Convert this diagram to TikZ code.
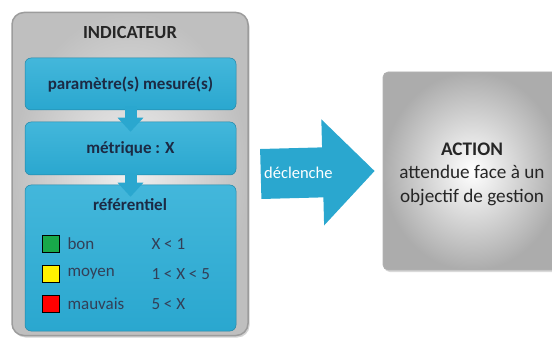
\documentclass[tikz,border=0pt]{standalone}
\usepackage{fontspec}
\setmainfont{Carlito}
\usetikzlibrary{arrows.meta,shadows}

\definecolor{bleuboite}{HTML}{2AA7CF}
\definecolor{bleuclair}{HTML}{43B7DB}
\definecolor{bleutexte}{HTML}{1C2A44}
\definecolor{grisbord}{HTML}{9C9C9C}
\definecolor{vertbon}{HTML}{18A84A}

\begin{document}
\begin{tikzpicture}[x=1pt,y=-1pt,>=Latex,
  every node/.style={font=\fontsize{17}{20}\selectfont,text=bleutexte},
  cadregris/.style={rounded corners=12,draw=grisbord,line width=1.5,
    inner color=gray!12,outer color=gray!50,
    drop shadow={shadow xshift=1.5pt,shadow yshift=-2pt,opacity=0.35}},
  boite/.style={rounded corners=6,draw=bleuboite!80!black,line width=0.5,
    top color=bleuclair,bottom color=bleuboite,
    minimum width=211,inner sep=0pt},
  titre/.style={font=\fontsize{17}{20}\selectfont\bfseries},
  carre/.style={draw=black,line width=1.4,minimum size=17,inner sep=0pt},
  legende/.style={anchor=west,font=\fontsize{17}{20}\selectfont,text=bleutexte!90!white},
  flechebas/.style={bleuboite,line width=12,-{Triangle[length=14pt,width=25pt]}},
  fleche/.style={bleuboite,line width=50,-{Triangle[length=52pt,width=103pt]}}]
  \useasboundingbox (0,0) rectangle (552,342);
  % bloc indicateur
  \node[cadregris,minimum width=236,minimum height=323] (indic) at (130,174) {};
  \node[titre,font=\fontsize{18.5}{20}\selectfont\bfseries,text=black!85] (titreindic) at (130,33) {INDICATEUR};
  \node[boite,minimum height=52] (param) at (130.5,84) {};
  \node[titre] (paramtxt) at (130.5,85) {param\`etre(s) mesur\'e(s)};
  \node[boite,minimum height=53] (metrique) at (130.5,148.5) {};
  \node[titre] (metriquetxt) at (metrique) {m\'etrique : X};
  \node[boite,minimum height=146] (referentiel) at (130.5,258) {};
  \node[titre] (referentieltxt) at (130,205) {r\'ef\'erentiel};
  \draw[flechebas] ([yshift=4]param.south) -- ([yshift=-10]metrique.north);
  \draw[flechebas] ([yshift=2]metrique.south) -- ([yshift=-12]referentiel.north);
  % classes du referentiel
  \node[carre,fill=vertbon] (carrebon) at (51,244) {};
  \node[carre,fill=yellow] (carremoyen) at (51,274) {};
  \node[carre,fill=red] (carremauvais) at (51,304) {};
  \node[legende] (bon) at (64,244) {bon};
  \node[legende] (moyen) at (64,274) {moyen};
  \node[legende] (mauvais) at (64,304) {mauvais};
  \node[legende] (seuilbon) at (148,244) {X < 1};
  \node[legende] (seuilmoyen) at (148,274) {1 < X < 5};
  \node[legende] (seuilmauvais) at (148,304) {5 < X};
  % action
  \node[rounded corners=5,draw=gray!60,line width=0.6,
    inner color=white,outer color=gray!65,
    drop shadow={shadow xshift=1.5pt,shadow yshift=-2pt,opacity=0.3},
    minimum width=178,minimum height=198] (action) at (472,171) {};
  \node[align=center,font=\fontsize{19.2}{23.5}\selectfont,text=black!85] (actiontxt) at (472,174)
    {\textbf{ACTION}\\attendue face \`a un\\objectif de gestion};
  \draw[fleche] ([xshift=12]indic.east) -- ([xshift=-8]action.west)
    node[pos=0.33,text=white,font=\fontsize{16.5}{18}\selectfont] (declenche) {d\'eclenche};
\end{tikzpicture}
\end{document}
